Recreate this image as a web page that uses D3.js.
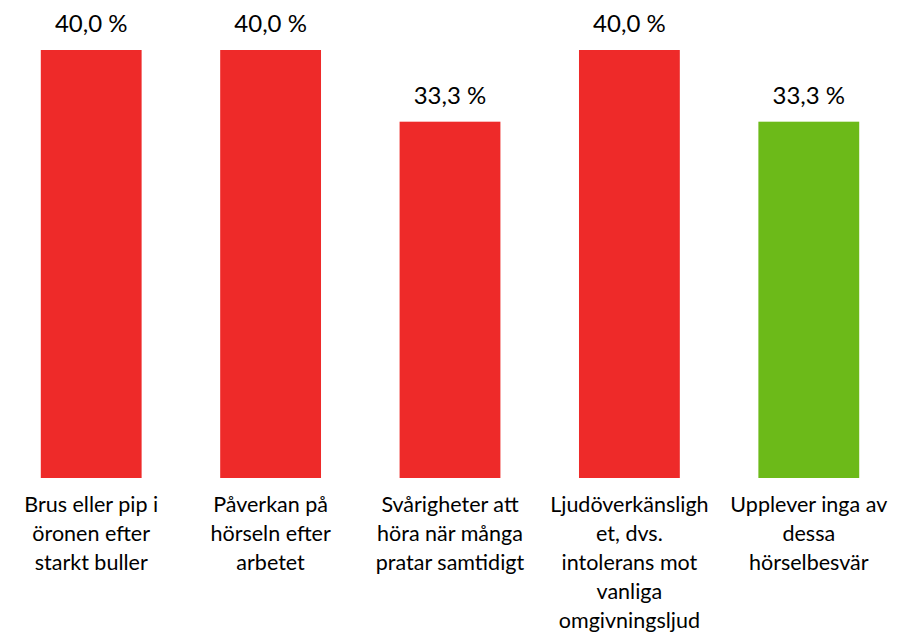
<!DOCTYPE html>
<meta charset="utf-8">
<style>
body { margin: 0; background: #fff; }
svg text { font-family: Lato, "Open Sans", sans-serif; fill: #000; }
</style>
<svg width="911" height="632"></svg>
<script src="https://cdnjs.cloudflare.com/ajax/libs/d3/7.8.5/d3.min.js"></script>
<script>

// kategorier (radbrytningar som i originalet)
var categories = [
  "Brus eller pip i\nöronen efter\nstarkt buller",
  "Påverkan på\nhörseln efter\narbetet",
  "Svårigheter att\nhöra när många\npratar samtidigt",
  "Ljudöverkänsligh\net, dvs.\nintolerans mot\nvanliga\nomgivningsljud",
  "Upplever inga av\ndessa\nhörselbesvär"
];
var values = [40.0, 40.0, 33.3, 40.0, 33.3];
var barColors = ["#ee2a29", "#ee2a29", "#ee2a29", "#ee2a29", "#6cba19"];

var svg = d3.select("svg"),
    width = +svg.attr("width"),
    height = +svg.attr("height");

var baseline = 478;

var x = d3.scaleBand()
    .domain(categories)
    .range([1.5, 898.5])
    .paddingInner(0.438)
    .paddingOuter(0.219);

var y = d3.scaleLinear()
    .domain([0, 40])
    .range([baseline, 50]);

var data = categories.map(function(c, i) {
  return { cat: c, value: values[i], color: barColors[i] };
});

// staplar
svg.append("g")
  .selectAll("rect")
  .data(data)
  .enter().append("rect")
    .attr("x", function(d) { return x(d.cat); })
    .attr("y", function(d) { return y(d.value); })
    .attr("width", x.bandwidth())
    .attr("height", function(d) { return baseline - y(d.value); })
    .attr("fill", function(d) { return d.color; });

// värdeetiketter
svg.append("g")
  .selectAll("text")
  .data(data)
  .enter().append("text")
    .attr("x", function(d) { return x(d.cat) + x.bandwidth() / 2; })
    .attr("y", function(d) { return y(d.value) - 18; })
    .attr("text-anchor", "middle")
    .style("font-size", "24px")
    .text(function(d) { return d.value.toFixed(1).replace(".", ",") + " %"; });

// kategorietiketter
var labels = svg.append("g")
  .selectAll("text")
  .data(data)
  .enter().append("text")
    .attr("x", function(d) { return x(d.cat) + x.bandwidth() / 2; })
    .attr("y", baseline + 34)
    .attr("text-anchor", "middle")
    .style("font-size", "21.5px");

labels.selectAll("tspan")
  .data(function(d) {
    var cx = x(d.cat) + x.bandwidth() / 2;
    return d.cat.split("\n").map(function(t) { return { t: t, cx: cx }; });
  })
  .enter().append("tspan")
    .attr("x", function(d) { return d.cx; })
    .attr("dy", function(d, i) { return i === 0 ? 0 : 29; })
    .text(function(d) { return d.t; });

</script>
